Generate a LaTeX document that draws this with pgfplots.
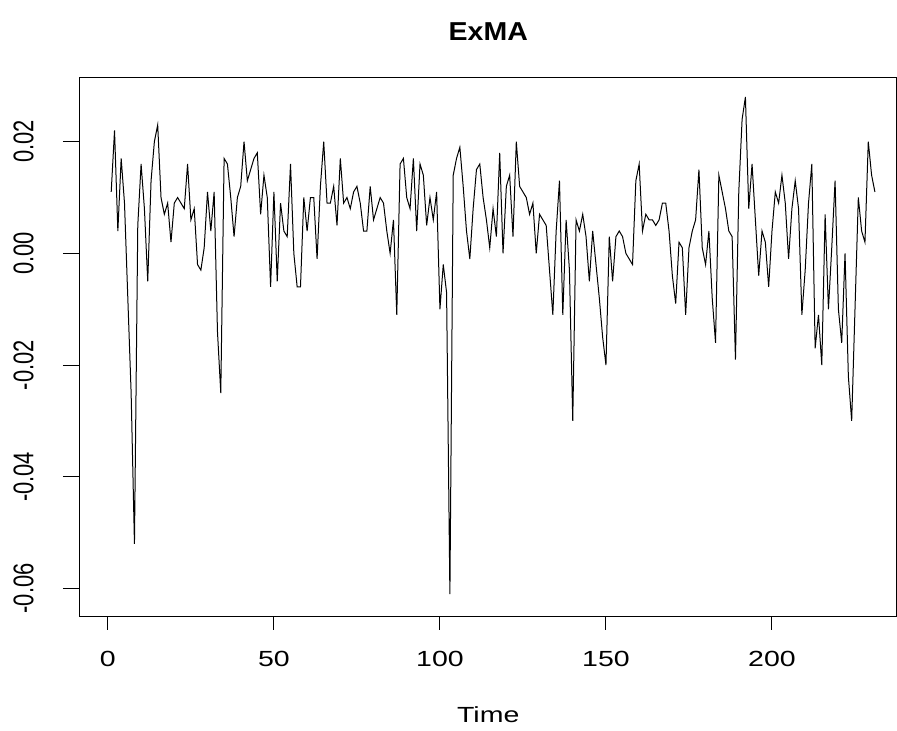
\documentclass[border=0pt]{standalone}
\usepackage{fontspec}
\setmainfont{Liberation Sans}
\usepackage{graphicx}
\usepackage{pgfplots}
\pgfplotsset{compat=1.18}
\newcommand{\sx}[1]{\scalebox{1.3}[1]{#1}}
\newcommand{\sy}[1]{\scalebox{1}[1.3]{#1}}
\begin{document}
\begin{tikzpicture}
\begin{axis}[
  scale only axis, width=816.5bp, height=539bp,
  xmin=-8.4, xmax=237.5, ymin=-0.0651, ymax=0.0314,
  scaled y ticks=false, scaled x ticks=false,
  axis line style={line width=1bp},
  tick align=outside, xtick pos=bottom, ytick pos=left,
  xtick style={line width=1bp, black, /pgfplots/major tick length=13bp},
  ytick style={line width=1bp, black, /pgfplots/major tick length=17bp},
  xtick={0,50,100,150,200},
  xticklabels={\sx{0},\sx{50},\sx{100},\sx{150},\sx{200}},
  ytick={-0.06,-0.04,-0.02,0,0.02},
  yticklabels={\sy{-0.06},\sy{-0.04},\sy{-0.02},\sy{0.00},\sy{0.02}},
  xticklabel style={anchor=north, inner sep=0pt, yshift=-30bp, font=\fontsize{22}{22}\selectfont},
  yticklabel style={rotate=90, anchor=south, inner sep=0pt, yshift=42bp, font=\fontsize{22}{22}\selectfont},
  xlabel={\sx{Time}},
  xlabel style={at={(axis description cs:0.5,0)}, anchor=north, yshift=-89bp, inner sep=0pt, font=\fontsize{22}{22}\selectfont},
  title={\scalebox{1.1}[1]{ExMA}},
  title style={at={(axis description cs:0.5,1)}, anchor=south, yshift=31bp, inner sep=0pt, font=\bfseries\fontsize{26}{26}\selectfont},
  clip=false,
]
\addplot[black, line width=1bp] table {
1 0.011
2 0.022
3 0.004
4 0.017
5 0.009
6 -0.008
7 -0.025
8 -0.052
9 0.005
10 0.016
11 0.008
12 -0.005
13 0.013
14 0.020
15 0.023
16 0.010
17 0.007
18 0.009
19 0.002
20 0.009
21 0.010
22 0.009
23 0.008
24 0.016
25 0.006
26 0.008
27 -0.002
28 -0.003
29 0.001
30 0.011
31 0.004
32 0.011
33 -0.014
34 -0.025
35 0.017
36 0.016
37 0.010
38 0.003
39 0.010
40 0.012
41 0.020
42 0.013
43 0.015
44 0.017
45 0.018
46 0.007
47 0.014
48 0.010
49 -0.006
50 0.011
51 -0.005
52 0.009
53 0.004
54 0.003
55 0.016
56 0.000
57 -0.006
58 -0.006
59 0.010
60 0.004
61 0.010
62 0.010
63 -0.001
64 0.012
65 0.020
66 0.009
67 0.009
68 0.012
69 0.005
70 0.017
71 0.009
72 0.010
73 0.008
74 0.011
75 0.012
76 0.009
77 0.004
78 0.004
79 0.012
80 0.006
81 0.008
82 0.010
83 0.009
84 0.004
85 0.000
86 0.006
87 -0.011
88 0.016
89 0.017
90 0.010
91 0.008
92 0.017
93 0.004
94 0.016
95 0.014
96 0.005
97 0.010
98 0.006
99 0.011
100 -0.010
101 -0.002
102 -0.007
103 -0.061
104 0.014
105 0.017
106 0.019
107 0.012
108 0.004
109 -0.001
110 0.008
111 0.015
112 0.016
113 0.010
114 0.006
115 0.001
116 0.008
117 0.003
118 0.018
119 0.000
120 0.012
121 0.014
122 0.003
123 0.020
124 0.012
125 0.011
126 0.010
127 0.007
128 0.009
129 0.000
130 0.007
131 0.006
132 0.005
133 -0.003
134 -0.011
135 0.004
136 0.013
137 -0.011
138 0.006
139 -0.003
140 -0.030
141 0.006
142 0.004
143 0.007
144 0.003
145 -0.005
146 0.004
147 -0.002
148 -0.008
149 -0.015
150 -0.020
151 0.003
152 -0.005
153 0.003
154 0.004
155 0.003
156 0.000
157 -0.001
158 -0.002
159 0.013
160 0.016
161 0.004
162 0.007
163 0.006
164 0.006
165 0.005
166 0.006
167 0.009
168 0.009
169 0.004
170 -0.004
171 -0.009
172 0.002
173 0.001
174 -0.011
175 0.001
176 0.004
177 0.006
178 0.015
179 0.001
180 -0.002
181 0.004
182 -0.008
183 -0.016
184 0.014
185 0.011
186 0.008
187 0.004
188 0.003
189 -0.019
190 0.011
191 0.024
192 0.028
193 0.008
194 0.016
195 0.006
196 -0.004
197 0.004
198 0.002
199 -0.006
200 0.004
201 0.011
202 0.009
203 0.014
204 0.009
205 -0.001
206 0.008
207 0.013
208 0.008
209 -0.011
210 -0.003
211 0.009
212 0.016
213 -0.017
214 -0.011
215 -0.020
216 0.007
217 -0.010
218 0.001
219 0.013
220 -0.010
221 -0.016
222 0.000
223 -0.022
224 -0.030
225 -0.010
226 0.010
227 0.004
228 0.002
229 0.020
230 0.014
231 0.011
};
\end{axis}
\pgfresetboundingbox
\path[use as bounding box] ([xshift=-80bp,yshift=-114bp]current axis.south west) rectangle ([xshift=0.5bp,yshift=78bp]current axis.north east);
\end{tikzpicture}
\end{document}
